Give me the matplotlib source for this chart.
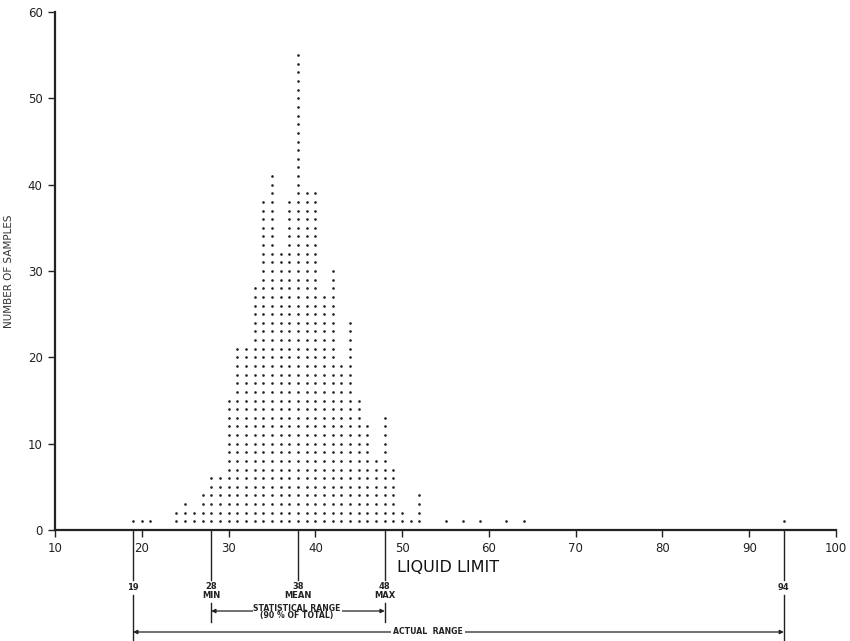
import numpy as np
import matplotlib.pyplot as plt
from matplotlib.transforms import blended_transform_factory

# liquid limit value and how many samples fell on it
liquid_limit = [19, 20, 21, 24, 25, 26, 27, 28, 29, 30, 31, 32, 33, 34, 35, 36,
                37, 38, 39, 40, 41, 42, 43, 44, 45, 46, 47, 48, 49, 50, 51, 52,
                55, 57, 59, 62, 64, 94]
sample_count = [1, 1, 1, 2, 3, 2, 4, 6, 6, 15, 21, 21, 28, 38, 41, 32,
                38, 55, 39, 39, 27, 30, 19, 24, 15, 12, 8, 13, 7, 2, 1, 4,
                1, 1, 1, 1, 1, 1]

x_ticks = [10, 20, 30, 40, 50, 60, 70, 80, 90, 100]
y_ticks = [0, 10, 20, 30, 40, 50, 60]

actual_min, actual_max = 19, 94
stat_min, stat_mean, stat_max = 28, 38, 48

W, H = 850, 641
fig = plt.figure(figsize=(W / 100, H / 100), dpi=100)
ax = fig.add_axes([55 / W, 1 - 530 / H, (836 - 55) / W, (530 - 12) / H])

# one dot per sample, stacked in columns
xs = np.repeat(liquid_limit, sample_count)
ys = np.concatenate([np.arange(1, n + 1) for n in sample_count])
ax.plot(xs, ys, linestyle='none', marker='o', markersize=1.9,
        color='#222222', markeredgewidth=0, clip_on=False)

ax.set_xlim(10, 100)
ax.set_ylim(0, 60)
ax.set_xticks(x_ticks)
ax.set_yticks(y_ticks)
for s in ['top', 'right']:
    ax.spines[s].set_visible(False)
for s in ['left', 'bottom']:
    ax.spines[s].set_linewidth(1.6)
    ax.spines[s].set_color('#222222')
ax.tick_params(axis='both', direction='out', length=5, width=1,
               colors='#222222', labelsize=8.5, pad=4)
ax.set_ylabel('NUMBER OF SAMPLES', fontsize=7.5, color='#333333', labelpad=10)

fig.text(448 / W, 1 - 567 / H, 'LIQUID LIMIT', fontsize=11.5, ha='center',
         va='center', color='#111111')

# range markers below the axis: x in data units, y in figure fraction
tr = blended_transform_factory(ax.transData, fig.transFigure)


def fy(py):
    return 1 - py / H


lw = 1.0
for v in [actual_min, actual_max]:
    ax.plot([v, v], [fy(530), fy(580)], transform=tr, color='#222222',
            lw=lw, clip_on=False)
    ax.plot([v, v], [fy(595), fy(641)], transform=tr, color='#222222',
            lw=lw, clip_on=False)
    ax.text(v, fy(587), str(v), transform=tr, ha='center', va='center',
            fontsize=6, fontweight='bold', color='#222222')

for v, name in [(stat_min, 'MIN'), (stat_mean, 'MEAN'), (stat_max, 'MAX')]:
    ax.plot([v, v], [fy(530), fy(580)], transform=tr, color='#222222',
            lw=lw, clip_on=False)
    ax.text(v, fy(591), f'{v}\n{name}', transform=tr, ha='center',
            va='center', fontsize=6, fontweight='bold', color='#222222',
            linespacing=0.95)
for v in [stat_min, stat_max]:
    ax.plot([v, v], [fy(603), fy(622)], transform=tr, color='#222222',
            lw=lw, clip_on=False)

arrow = dict(arrowstyle='<|-|>', color='#222222', lw=0.9,
             shrinkA=0, shrinkB=0, mutation_scale=6)
ax.annotate('', xy=(stat_min, fy(611)), xytext=(stat_max, fy(611)),
            xycoords=tr, textcoords=tr, arrowprops=arrow)
ax.text((stat_min + stat_max) / 2 - 0.1, fy(612), 'STATISTICAL RANGE\n(90 % OF TOTAL)',
        transform=tr, ha='center', va='center', fontsize=5.6,
        fontweight='bold', color='#222222', linespacing=0.85,
        bbox=dict(facecolor='white', edgecolor='none', pad=0.6))

ax.annotate('', xy=(actual_min, fy(632)), xytext=(actual_max, fy(632)),
            xycoords=tr, textcoords=tr, arrowprops=arrow)
ax.text(53, fy(632), 'ACTUAL  RANGE', transform=tr, ha='center',
        va='center', fontsize=5.6, fontweight='bold', color='#222222',
        bbox=dict(facecolor='white', edgecolor='none', pad=1.5))

fig.savefig('out.png', dpi=100, facecolor='white')
